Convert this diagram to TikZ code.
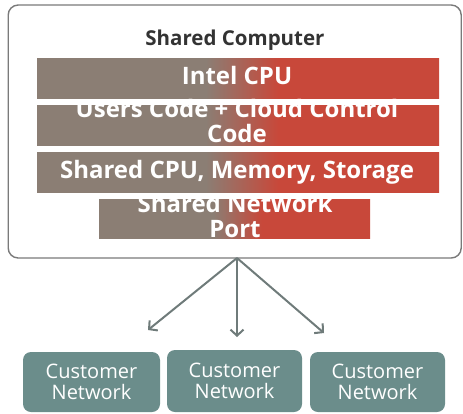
\documentclass[tikz,border=0pt]{standalone}
\usepackage{fontspec}
\setmainfont{Open Sans}
\usetikzlibrary{arrows.meta}
\definecolor{bargray}{HTML}{8B7E74}
\definecolor{barred}{HTML}{C8483A}
\definecolor{custteal}{HTML}{6B8D8B}
\definecolor{arrowgray}{HTML}{6F7B7A}
\definecolor{bordergray}{HTML}{7A7A7A}
\definecolor{titlegray}{HTML}{333333}
\pgfdeclarehorizontalshading{grayred}{100bp}{color(0bp)=(bargray); color(46bp)=(bargray); color(55bp)=(barred); color(100bp)=(barred)}
\tikzset{
  layer/.style={shading=grayred, inner sep=0pt},
  layertext/.style={text=white, align=center, anchor=base, inner sep=0pt,
    font=\fontsize{24}{24.5}\selectfont\bfseries},
  custbox/.style={fill=custteal, rounded corners=8pt, inner sep=0pt, text=white,
    align=center, font=\fontsize{20}{21}\selectfont, minimum height=60pt},
  link/.style={draw=arrowgray, line width=2pt, -{Straight Barb[length=6pt,width=13pt]}}
}
\begin{document}
\begin{tikzpicture}[x=1pt,y=-1pt]
\useasboundingbox (0,0) rectangle (463,413);
\node[draw=bordergray, line width=1.4pt, rounded corners=10pt, minimum width=453pt, minimum height=253pt, inner sep=0pt] (computer) at (234.7,131.5) {};
\node[text=titlegray, font=\fontsize{20.5}{24}\selectfont\bfseries, anchor=base] (title) at (235,45) {Shared Computer};
\node[layer, minimum width=402pt, minimum height=40pt] (cpu) at (238,78) {};
\node[layer, minimum width=402pt, minimum height=40pt] (code) at (238,125) {};
\node[layer, minimum width=402pt, minimum height=40pt] (mem) at (238,172) {};
\node[layer, minimum width=271pt, minimum height=39pt] (port) at (234.5,218.5) {};
\node[layertext] (cputext) at (237,84) {Intel CPU};
\node[layertext] (codetext) at (237,142) {Users Code + Cloud Control\\Code};
\node[layertext] (memtext) at (237,178) {Shared CPU, Memory, Storage};
\node[layertext] (porttext) at (235,237) {Shared Network\\Port};
\node[custbox, minimum width=137pt] (c1) at (91.5,382) {Customer\\Network};
\node[custbox, minimum width=135pt, minimum height=62pt] (c2) at (234.5,381) {Customer\\Network};
\node[custbox, minimum width=135pt] (c3) at (377.5,382) {Customer\\Network};
\coordinate (src) at (237,258);
\coordinate (e1) at (148,330);
\coordinate (e2) at (237,337);
\coordinate (e3) at (324,333);
\draw[link] (src) -- (e1);
\draw[link] (src) -- (e2);
\draw[link] (src) -- (e3);
\end{tikzpicture}
\end{document}
